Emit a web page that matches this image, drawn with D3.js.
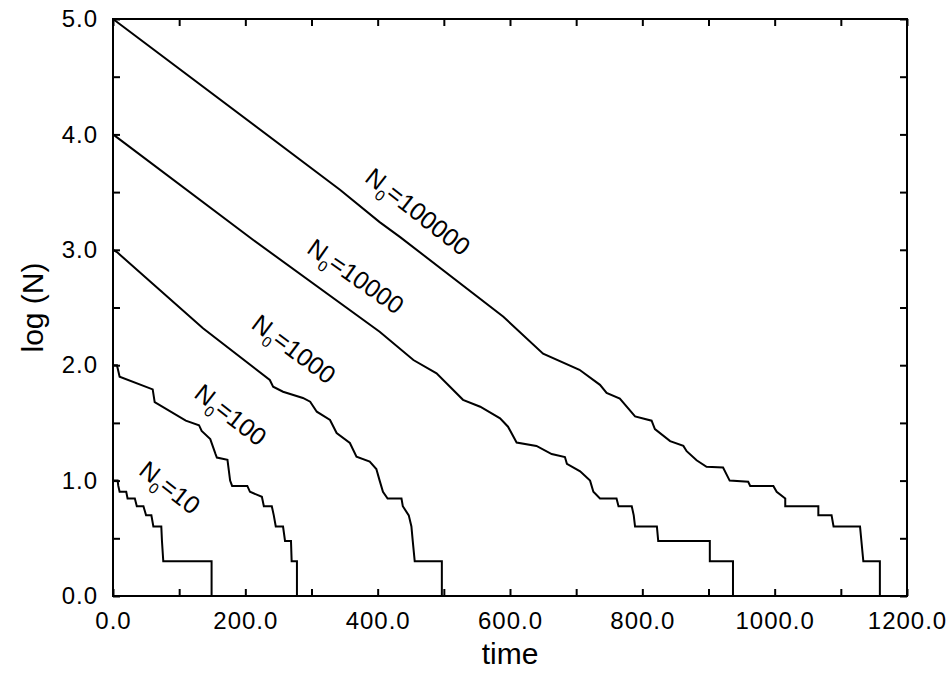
<!DOCTYPE html>
<html>
<head>
<meta charset="utf-8">
<script src="https://cdn.jsdelivr.net/npm/d3@7"></script>
<style>
  body { margin: 0; background: #fff; }
  svg { display: block; font-family: "Liberation Sans", Arial, Helvetica, sans-serif; }
</style>
</head>
<body>
<div class="canvas"></div>
<script>
// data: [time, log(N)], one array per starting population
const decay10 = [[0,1.0],[7,1.0],[8,0.954],[10,0.903],[20,0.903],[22,0.845],[33,0.845],[36,0.778],[46,0.778],[50,0.699],[58,0.699],[61,0.602],[73,0.602],[74,0.477],[76,0.301],[149,0.301],[149,0]];
const decay100 = [[0,2.0],[6,2.0],[10,1.9],[60,1.79],[63,1.68],[110,1.52],[130,1.48],[134,1.43],[147,1.36],[155,1.23],[157,1.2],[173,1.18],[177,1.0],[180,0.954],[203,0.954],[207,0.903],[225,0.86],[228,0.778],[240,0.778],[243,0.699],[246,0.602],[257,0.602],[260,0.477],[269,0.477],[270,0.301],[278,0.301],[278,0]];
const decay1000 = [[0,3.0],[6,2.98],[136,2.32],[237,1.872],[242,1.814],[257,1.77],[287,1.716],[298,1.684],[308,1.597],[328,1.525],[338,1.412],[358,1.326],[368,1.207],[388,1.164],[398,1.1],[403,1.0],[408,0.903],[415,0.845],[436,0.845],[438,0.778],[447,0.699],[451,0.602],[453,0.477],[456,0.301],[497,0.301],[497,0]];
const decay10000 = [[0,4.0],[212,3.085],[403,2.29],[454,2.045],[489,1.93],[529,1.70],[555,1.64],[585,1.54],[597,1.467],[610,1.33],[640,1.30],[663,1.23],[683,1.204],[686,1.146],[706,1.08],[721,1.0],[726,0.903],[736,0.845],[761,0.845],[764,0.778],[784,0.778],[787,0.699],[789,0.602],[822,0.602],[824,0.477],[902,0.477],[902,0.301],[937,0.301],[937,0]];
const decay100000 = [[0,5.0],[343,3.52],[403,3.24],[434,3.11],[590,2.42],[650,2.1],[705,1.96],[736,1.83],[746,1.76],[766,1.71],[789,1.556],[814,1.519],[819,1.447],[842,1.342],[862,1.301],[867,1.255],[882,1.176],[897,1.12],[922,1.114],[932,1.0],[960,0.99],[963,0.954],[998,0.954],[1003,0.903],[1016,0.845],[1016,0.778],[1066,0.778],[1066,0.699],[1086,0.699],[1089,0.602],[1129,0.602],[1134,0.301],[1159,0.301],[1159,0]];

const startCounts = ['10', '100', '1000', '10000', '100000'];
const xTicks = [0, 100, 200, 300, 400, 500, 600, 700, 800, 900, 1000, 1100, 1200];
const yTicks = [0, 0.5, 1, 1.5, 2, 2.5, 3, 3.5, 4, 4.5, 5];

//1. dimensions
const margin = {top: 19, right: 45, bottom: 77, left: 113};
const graphWidth = 952 - margin.left - margin.right;
const graphHeight = 673 - margin.top - margin.bottom;

//2. svg
const canvas = d3.select('.canvas')
    .append('svg')
    .attr('width', 952)
    .attr('height', 673);

canvas.append('rect').attr('width', 952).attr('height', 673).attr('fill', '#fff');

const graph = canvas.append('g')
    .attr('transform', `translate(${margin.left},${margin.top})`);

//3. scales
const x = d3.scaleLinear().domain([0, 1200]).range([0, graphWidth]);
const y = d3.scaleLinear().domain([0, 5]).range([graphHeight, 0]);

//4. axes, ticks point inward on all four sides
const fmt = d3.format('.1f');
const styleAxis = g => {
    g.select('.domain').remove();
    g.selectAll('.tick line').attr('stroke', '#000').attr('stroke-width', 2);
    g.selectAll('.tick text')
        .attr('fill', '#000')
        .style('font-size', '24px')
        .style('letter-spacing', '1px');
};

graph.append('g')
    .attr('transform', `translate(0,${graphHeight})`)
    .call(d3.axisBottom(x).tickValues(xTicks).tickSize(-7).tickPadding(16)
        .tickFormat(d => d % 200 === 0 ? fmt(d) : ''))
    .call(styleAxis);

graph.append('g')
    .call(d3.axisTop(x).tickValues(xTicks).tickSize(-7).tickFormat(''))
    .call(styleAxis);

graph.append('g')
    .call(d3.axisLeft(y).tickValues(yTicks).tickSize(-7).tickPadding(15)
        .tickFormat(d => Number.isInteger(d) ? fmt(d) : ''))
    .call(styleAxis);

graph.append('g')
    .attr('transform', `translate(${graphWidth},0)`)
    .call(d3.axisRight(y).tickValues(yTicks).tickSize(-7).tickFormat(''))
    .call(styleAxis);

graph.append('rect')
    .attr('width', graphWidth)
    .attr('height', graphHeight)
    .attr('fill', 'none')
    .attr('stroke', '#000')
    .attr('stroke-width', 2);

//5. curves
const line = d3.line().x(d => x(d[0])).y(d => y(d[1]));
const allSeries = [decay10, decay100, decay1000, decay10000, decay100000];

graph.selectAll('path.curve').data(allSeries).join('path')
    .attr('class', 'curve')
    .attr('d', line)
    .attr('fill', 'none')
    .attr('stroke', '#000')
    .attr('stroke-width', 2);

//6. curve labels, centred at a (time, logN) spot and tilted along the line
const labelSpots = [
    {t: 86, v: 0.94, a: 38},
    {t: 178, v: 1.57, a: 38},
    {t: 273.5, v: 2.14, a: 37},
    {t: 367, v: 2.77, a: 35},
    {t: 461, v: 3.33, a: 38}
];

startCounts.forEach((n, i) => {
    const s = labelSpots[i];
    const txt = graph.append('text')
        .attr('transform', `translate(${x(s.t)},${y(s.v)}) rotate(${s.a})`)
        .attr('text-anchor', 'middle')
        .attr('dy', '0.35em')
        .style('font-size', '25px')
        .attr('fill', '#000');
    txt.append('tspan').text('N');
    txt.append('tspan').attr('dy', 7).style('font-size', '15px').text('0');
    txt.append('tspan').attr('dy', -7).text('=' + n);
});

//7. axis titles
canvas.append('text')
    .attr('x', margin.left + graphWidth / 2)
    .attr('y', 664)
    .attr('text-anchor', 'middle')
    .style('font-size', '30px')
    .text('time');

canvas.append('text')
    .attr('transform', `translate(43,${margin.top + graphHeight / 2}) rotate(-90)`)
    .attr('text-anchor', 'middle')
    .style('font-size', '30px')
    .text('log (N)');
</script>
</body>
</html>
